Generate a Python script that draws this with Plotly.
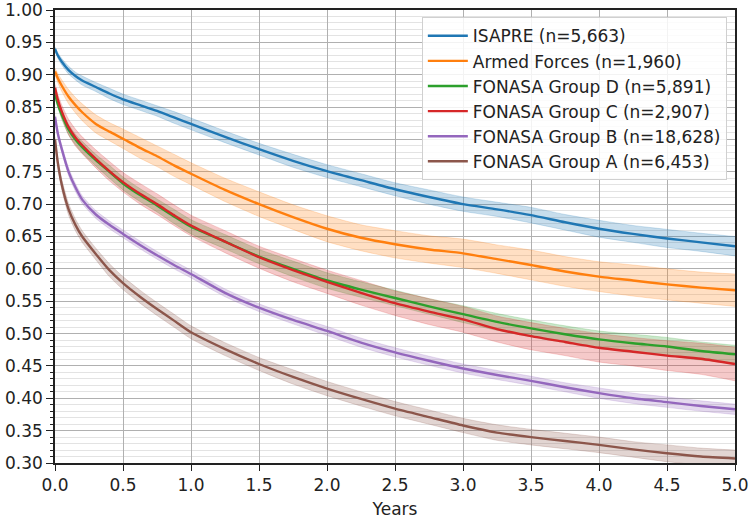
import plotly.graph_objects as go

years = [0, 0.02, 0.05, 0.1, 0.15, 0.2, 0.3, 0.4, 0.5, 0.625, 0.75, 0.875, 1.0,
         1.25, 1.5, 1.75, 2.0, 2.25, 2.5, 2.75, 3.0, 3.25, 3.5, 3.75, 4.0, 4.25, 4.5, 4.75, 5.0]

labels = ["ISAPRE (n=5,663)", "Armed Forces (n=1,960)", "FONASA Group D (n=5,891)",
          "FONASA Group C (n=2,907)", "FONASA Group B (n=18,628)", "FONASA Group A (n=6,453)"]

isapre = [0.940, 0.930, 0.920, 0.907, 0.898, 0.891, 0.881, 0.871, 0.862, 0.853, 0.844, 0.834, 0.824,
          0.804, 0.785, 0.767, 0.751, 0.737, 0.723, 0.711, 0.700, 0.692, 0.683, 0.672, 0.662, 0.654, 0.647, 0.641, 0.635]
armed = [0.905, 0.895, 0.883, 0.866, 0.853, 0.842, 0.824, 0.812, 0.801, 0.787, 0.774, 0.760, 0.747,
         0.722, 0.700, 0.680, 0.662, 0.648, 0.638, 0.630, 0.624, 0.615, 0.606, 0.596, 0.588, 0.582, 0.576, 0.571, 0.567]
group_d = [0.870, 0.855, 0.838, 0.815, 0.800, 0.788, 0.768, 0.750, 0.732, 0.714, 0.698, 0.681, 0.665,
           0.642, 0.619, 0.600, 0.582, 0.568, 0.555, 0.542, 0.530, 0.518, 0.508, 0.499, 0.491, 0.485, 0.480, 0.473, 0.468]
group_c = [0.880, 0.862, 0.843, 0.819, 0.803, 0.791, 0.770, 0.751, 0.734, 0.716, 0.700, 0.683, 0.667,
           0.642, 0.618, 0.598, 0.580, 0.563, 0.547, 0.534, 0.522, 0.507, 0.496, 0.487, 0.478, 0.472, 0.466, 0.461, 0.453]
group_b = [0.835, 0.810, 0.785, 0.750, 0.726, 0.707, 0.684, 0.668, 0.654, 0.637, 0.621, 0.606, 0.592,
           0.563, 0.540, 0.521, 0.504, 0.486, 0.471, 0.458, 0.446, 0.436, 0.427, 0.417, 0.408, 0.400, 0.394, 0.388, 0.383]
group_a = [0.800, 0.765, 0.730, 0.692, 0.668, 0.650, 0.623, 0.598, 0.578, 0.557, 0.538, 0.520, 0.502,
           0.476, 0.453, 0.433, 0.415, 0.399, 0.384, 0.371, 0.358, 0.347, 0.340, 0.334, 0.328, 0.321, 0.315, 0.310, 0.307]

# confidence-interval half widths
ci_isapre = [0.003, 0.004, 0.005, 0.006, 0.006, 0.007, 0.007, 0.008, 0.008, 0.008, 0.008, 0.009, 0.009,
             0.009, 0.009, 0.010, 0.010, 0.010, 0.010, 0.011, 0.011, 0.011, 0.012, 0.012, 0.013, 0.013, 0.014, 0.014, 0.015]
ci_armed = [0.005, 0.007, 0.009, 0.011, 0.012, 0.013, 0.014, 0.014, 0.015, 0.016, 0.016, 0.017, 0.017,
            0.018, 0.019, 0.019, 0.020, 0.020, 0.021, 0.021, 0.022, 0.022, 0.023, 0.023, 0.023, 0.024, 0.024, 0.024, 0.025]
ci_d = [0.004, 0.005, 0.007, 0.008, 0.008, 0.009, 0.009, 0.010, 0.010, 0.010, 0.010, 0.011, 0.011,
        0.011, 0.011, 0.012, 0.012, 0.012, 0.012, 0.012, 0.013, 0.013, 0.013, 0.013, 0.013, 0.014, 0.014, 0.014, 0.014]
ci_c = [0.005, 0.008, 0.010, 0.012, 0.013, 0.013, 0.014, 0.015, 0.015, 0.016, 0.016, 0.016, 0.016,
        0.017, 0.017, 0.018, 0.018, 0.019, 0.019, 0.020, 0.020, 0.020, 0.021, 0.021, 0.022, 0.022, 0.023, 0.024, 0.026]
ci_b = [0.003, 0.004, 0.005, 0.006, 0.006, 0.006, 0.006, 0.006, 0.006, 0.006, 0.006, 0.006, 0.006,
        0.006, 0.006, 0.006, 0.007, 0.007, 0.007, 0.007, 0.007, 0.007, 0.007, 0.007, 0.008, 0.008, 0.008, 0.008, 0.008]
ci_a = [0.004, 0.006, 0.008, 0.009, 0.009, 0.009, 0.009, 0.010, 0.010, 0.010, 0.010, 0.010, 0.010,
        0.010, 0.010, 0.011, 0.011, 0.011, 0.011, 0.011, 0.011, 0.012, 0.012, 0.012, 0.012, 0.012, 0.013, 0.013, 0.013]

colors = ["#1f77b4", "#ff7f0e", "#2ca02c", "#d62728", "#9467bd", "#8c564b"]
fills = ["rgba(31,119,180,0.25)", "rgba(255,127,14,0.25)", "rgba(44,160,44,0.25)",
         "rgba(214,39,40,0.25)", "rgba(148,103,189,0.25)", "rgba(140,86,75,0.25)"]

series = [isapre, armed, group_d, group_c, group_b, group_a]
cis = [ci_isapre, ci_armed, ci_d, ci_c, ci_b, ci_a]

fig = go.Figure()
for s, ci, fc in zip(series, cis, fills):
    upper = [v + h for v, h in zip(s, ci)]
    lower = [v - h for v, h in zip(s, ci)]
    fig.add_trace(go.Scatter(x=years, y=upper, mode="lines",
                             line=dict(width=0.8, color=fc, shape="spline", smoothing=0.6),
                             showlegend=False, hoverinfo="skip"))
    fig.add_trace(go.Scatter(x=years, y=lower, mode="lines",
                             line=dict(width=0.8, color=fc, shape="spline", smoothing=0.6),
                             fill="tonexty", fillcolor=fc, showlegend=False, hoverinfo="skip"))

for s, lab, c in zip(series, labels, colors):
    fig.add_trace(go.Scatter(x=years, y=s, mode="lines", name=lab,
                             line=dict(color=c, width=2.4, shape="spline", smoothing=0.6)))

font = "DejaVu Sans"
fig.update_layout(
    width=750, height=521,
    margin=dict(l=55, r=15, t=10, b=58, autoexpand=False),
    paper_bgcolor="white", plot_bgcolor="white",
    font=dict(family=font, size=17, color="#222222"),
    showlegend=True,
    legend=dict(x=0.988, y=0.984, xanchor="right", yanchor="top",
                bgcolor="rgba(255,255,255,0.85)", bordercolor="#d0d0d0", borderwidth=1,
                font=dict(family=font, size=17, color="#222222"),
                itemwidth=40, traceorder="normal"),
)
fig.update_xaxes(
    range=[0, 5], dtick=0.5, tickformat=".1f", automargin=False,
    ticklabeloverflow="allow",
    title=dict(text="Years", font=dict(size=17), standoff=9),
    showgrid=True, gridcolor="#b0b0b0", gridwidth=1,
    showline=True, mirror=True, linecolor="#222222", linewidth=1.5,
    ticks="outside", ticklen=6, tickcolor="#222222", zeroline=False,
)
fig.update_yaxes(
    range=[0.30, 1.00], dtick=0.05, tickformat=".2f", automargin=False,
    ticklabeloverflow="allow",
    showgrid=True, gridcolor="#b0b0b0", gridwidth=1,
    showline=True, mirror=True, linecolor="#222222", linewidth=1.5,
    ticks="outside", ticklen=7, tickcolor="#222222", zeroline=False,
    minor=dict(dtick=0.01, showgrid=True, gridcolor="#e3e3e3", gridwidth=1,
               ticks="outside", ticklen=3, tickcolor="#222222"),
)

fig.write_html("out.html", config={"displayModeBar": False},
               post_script="document.body.style.margin='0';")
